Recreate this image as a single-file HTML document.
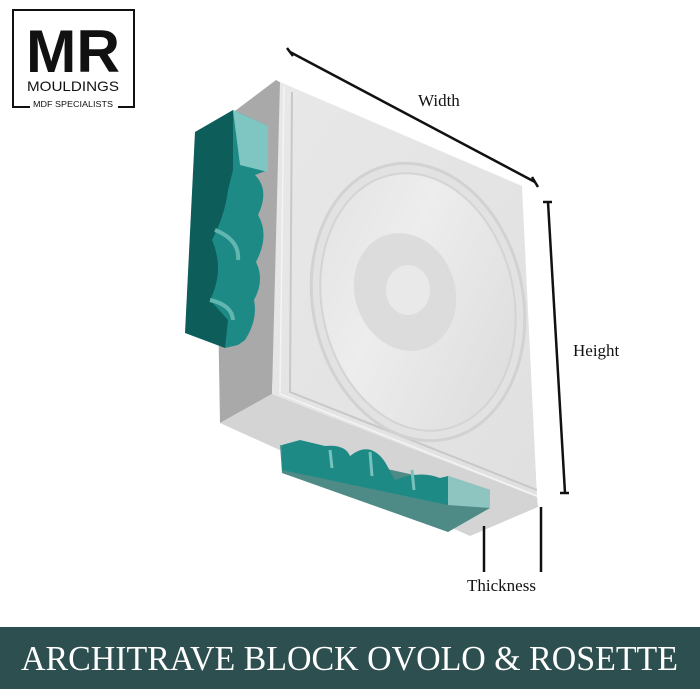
<!DOCTYPE html>
<html><head><meta charset="utf-8"><style>
html,body{margin:0;padding:0;background:#fff;width:700px;height:700px;overflow:hidden}
svg{display:block}
</style></head><body>
<svg width="700" height="700" viewBox="0 0 700 700" xmlns="http://www.w3.org/2000/svg">
<defs>
<linearGradient id="face" x1="0" y1="0" x2="1" y2="1"><stop offset="0" stop-color="#e8e8e8"/><stop offset="1" stop-color="#e0e0e0"/></linearGradient>
<linearGradient id="ros" x1="0" y1="0" x2="1" y2="1"><stop offset="0" stop-color="#e2e2e2"/><stop offset="0.4" stop-color="#ededed"/><stop offset="1" stop-color="#dadada"/></linearGradient>
</defs>
<!-- logo -->
<rect x="13" y="10" width="121" height="97" fill="none" stroke="#111" stroke-width="2"/>
<rect x="30" y="96" width="88" height="14" fill="#fff"/>
<text x="73" y="72" font-family="Liberation Sans, sans-serif" font-size="60" font-weight="bold" text-anchor="middle" fill="#111" textLength="94" lengthAdjust="spacingAndGlyphs">MR</text>
<text x="73" y="91" font-family="Liberation Sans, sans-serif" font-size="14" text-anchor="middle" fill="#111" textLength="92" lengthAdjust="spacingAndGlyphs">MOULDINGS</text>
<text x="73" y="107" font-family="Liberation Sans, sans-serif" font-size="8" text-anchor="middle" fill="#111" textLength="80" lengthAdjust="spacingAndGlyphs">MDF SPECIALISTS</text>

<!-- left side face -->
<polygon points="276,80 215,126 220,423 272,394 283,84" fill="#a9a9a9"/>
<!-- bottom face -->
<polygon points="220,423 272,394 537,497 538,507 470,536" fill="#d4d4d4"/>
<!-- front face -->
<polygon points="280,82 522,186 537,497 272,394" fill="url(#face)"/>
<polyline points="292,92 290,392 537,490" fill="none" stroke="#c8c8c8" stroke-width="2"/>
<polyline points="284,86 280,394 537,496" fill="none" stroke="#f4f4f4" stroke-width="1.5"/>
<!-- rosette -->
<ellipse cx="418" cy="302" rx="105" ry="140" transform="rotate(-12 418 302)" fill="#e2e2e2" stroke="#d2d2d2" stroke-width="3"/>
<ellipse cx="418" cy="302" rx="96" ry="130" transform="rotate(-12 418 302)" fill="url(#ros)" stroke="#d4d4d4" stroke-width="2"/>
<ellipse cx="405" cy="292" rx="50" ry="60" transform="rotate(-20 405 292)" fill="#dcdcdc"/>
<ellipse cx="408" cy="290" rx="22" ry="25" fill="#e9e9e9"/>

<!-- left teal moulding -->
<polygon points="195,132 233,110 240,330 225,348 185,333" fill="#0d5d5a"/>
<path d="M233,110 L268,126 L268,170 L255,175 Q270,190 258,215 Q270,235 256,262 Q265,280 254,300 Q258,320 245,340 L238,345 L225,348 L228,320 L210,300 Q225,270 212,240 Q225,215 228,190 L233,170 Z" fill="#1d8a86"/>
<polygon points="233,110 268,126 268,172 240,165" fill="#7fc6c2"/>
<path d="M215,230 Q240,240 238,260 M210,300 Q232,305 233,320" stroke="#62b6b0" stroke-width="4" fill="none"/>

<!-- bottom teal moulding -->
<polygon points="280,445 490,492 490,508 448,532 282,473" fill="#4e8a86"/>
<path d="M282,445 L300,440 L325,446 Q345,444 350,456 Q370,440 385,462 L395,480 Q420,470 440,478 L448,476 L490,490 L448,505 L282,470 Z" fill="#1d8a86"/>
<polygon points="448,476 490,490 490,508 448,505" fill="#8ec5c0"/>
<path d="M330,450 L332,468 M370,452 L372,476 M412,470 L414,490" stroke="#76c2bc" stroke-width="3" fill="none"/>

<!-- dimension lines -->
<g stroke="#111" stroke-width="2.5" fill="none">
<line x1="290" y1="52" x2="535" y2="182"/>
<line x1="287" y1="48" x2="293" y2="56"/>
<line x1="532" y1="177" x2="538" y2="187"/>
<line x1="548" y1="202" x2="565" y2="493"/>
<line x1="543" y1="202" x2="552" y2="202"/>
<line x1="560" y1="493" x2="569" y2="493"/>
<line x1="484" y1="526" x2="484" y2="572"/>
<line x1="541" y1="507" x2="541" y2="572"/>
</g>
<g font-family="Liberation Serif, serif" font-size="17" fill="#111">
<text x="418" y="106">Width</text>
<text x="573" y="356">Height</text>
<text x="467" y="591">Thickness</text>
</g>

<!-- banner -->
<rect x="0" y="627" width="700" height="62" fill="#2e4f4f"/>
<text x="21" y="670" font-family="Liberation Serif, serif" font-size="35" fill="#fff" textLength="657" lengthAdjust="spacingAndGlyphs">ARCHITRAVE BLOCK OVOLO &amp; ROSETTE</text>
</svg>
</body></html>
